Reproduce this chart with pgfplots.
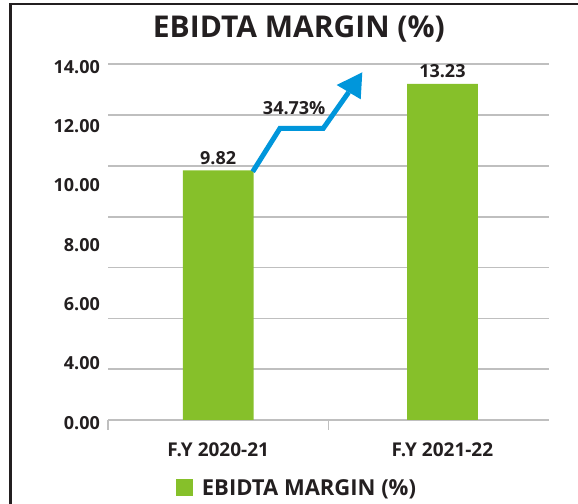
\documentclass[border=0pt]{standalone}
\usepackage{fontspec}
\setmainfont{Open Sans}
\usepackage{pgfplots}
\pgfplotsset{compat=1.18}

\definecolor{barGreen}{HTML}{86C02A}
\definecolor{arrowBlue}{HTML}{0096DB}
\definecolor{gridGray}{HTML}{BFBFBF}
\definecolor{inkDark}{HTML}{231F20}

\newcommand{\lblfont}{\fontsize{18bp}{20bp}\selectfont\bfseries}

\begin{document}
\begin{tikzpicture}[x=1bp, y=1bp]
  % outer frame, only left and top edges fall inside the picture
  \draw[inkDark, line width=2.3bp] (10.5,-20) -- (10.5,499.8) -- (600,499.8);

  \node[anchor=base, text=inkDark, font=\fontsize{30bp}{32bp}\selectfont\bfseries]
    at (298.9,466.7) {EBIDTA MARGIN (\%)};

  \begin{axis}[
    at={(108bp,84bp)}, anchor=south west,
    scale only axis, width=441bp, height=355.7bp,
    ybar, bar width=70.7bp,
    xmin=-0.4915, xmax=1.4755, ymin=0, ymax=14,
    axis y line*=left,
    y axis line style={draw=none},
    axis x line*=bottom,
    x axis line style={gridGray, line width=1.7bp},
    xtick={0,1}, xticklabels={F.Y 2020-21, F.Y 2021-22},
    xtick style={draw=none},
    xticklabel style={font=\fontsize{19bp}{21bp}\selectfont\bfseries, text=inkDark,
      anchor=north, inner sep=0pt, yshift=-18.3bp},
    extra x ticks={-0.4915,0.492}, extra x tick labels={},
    extra x tick style={xtick style={draw=gridGray, line width=1.7bp},
      tick align=outside, major tick length=10bp},
    ytick={0,2.3333,4.6667,7,9.3333,11.6667,14},
    yticklabels={0.00,4.00,6.00,8.00,10.00,12.00,14.00},
    ytick style={draw=none},
    yticklabel style={font=\lblfont, text=inkDark, anchor=east, inner sep=0pt, xshift=-8bp, yshift=-2.7bp},
    extra y ticks={2,4,6,8,10,12,14}, extra y tick labels={},
    extra y tick style={grid=major, ytick style={draw=none}},
    grid style={gridGray, line width=1.7bp},
    /pgf/number format/assume math mode=true,
    nodes near coords,
    nodes near coords style={font=\lblfont, text=inkDark, anchor=south, inner sep=0pt, yshift=6bp,
      /pgf/number format/fixed, /pgf/number format/fixed zerofill, /pgf/number format/precision=2},
    legend style={draw=none, fill=none, font=\fontsize{22bp}{24bp}\selectfont\bfseries,
      text=inkDark, inner sep=0pt, column sep=7bp,
      at={(axis description cs:0.1536,-0.1906)}, anchor=west},
    clip=false,
  ]
    \addplot[fill=barGreen, draw=none,
      legend image code/.code={\fill[barGreen] (0bp,-8.5bp) rectangle (17bp,8.5bp);}]
      coordinates {(0,9.82) (1,13.23)};
    \addlegendentry{EBIDTA MARGIN (\%)}
  \end{axis}

  % growth arrow
  \draw[arrowBlue, line width=5bp, line join=miter]
    (252.7,332.3) -- (280,375.7) -- (323.3,375.7) -- (348.7,411.8);
  \fill[arrowBlue] (362.3,431.7) -- (336.7,419) -- (360.7,404.7) -- cycle;
  \node[anchor=base, text=inkDark, font=\lblfont] at (294.2,389) {34.73\%};

  \pgfresetboundingbox
  \path[use as bounding box] (0,0) rectangle (578,504);
\end{tikzpicture}
\end{document}
